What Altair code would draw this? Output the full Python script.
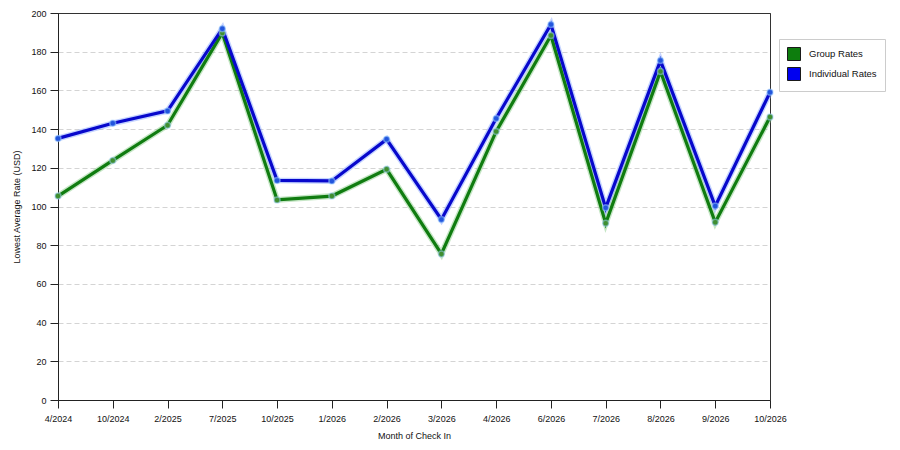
import altair as alt
import pandas as pd

months = ["4/2024", "10/2024", "2/2025", "7/2025", "10/2025", "1/2026", "2/2026",
          "3/2026", "4/2026", "6/2026", "7/2026", "8/2026", "9/2026", "10/2026"]
group_rates = [105.4, 123.8, 142.0, 189.7, 103.4, 105.4, 119.2,
               75.5, 138.8, 188.4, 91.3, 169.8, 91.8, 146.2]
individual_rates = [135.2, 143.0, 149.4, 191.9, 113.5, 113.2, 134.7,
                    93.3, 145.5, 194.1, 99.3, 175.4, 100.2, 159.0]
series = ["Group Rates", "Individual Rates"]
line_colors = ["#107c10", "#0808cc"]
halo_colors = ["#7fc77f", "#7f9fff"]
point_colors = ["#3f8f2f", "#2255dd"]
legend_colors = ["#0d7d0d", "#0000f0"]

rows = []
for m, g, i in zip(months, group_rates, individual_rates):
    rows.append({"month": m, "series": series[0], "rate": g})
    rows.append({"month": m, "series": series[1], "rate": i})
df = pd.DataFrame(rows)

font = "Liberation Sans"
axis_style = dict(labelFont=font, titleFont=font, labelFontSize=9, titleFontSize=9,
                  labelColor="#111111", titleColor="#111111", titleFontWeight="normal",
                  domainColor="#222222", tickColor="#222222", tickSize=8)

x = alt.X("month:O", sort=months, title="Month of Check In",
          scale=alt.Scale(type="point", padding=0),
          axis=alt.Axis(labelAngle=0, grid=False, labelPadding=6,
                        titlePadding=8, **axis_style))
y = alt.Y("rate:Q", title="Lowest Average Rate (USD)",
          scale=alt.Scale(domain=[0, 200], nice=False),
          axis=alt.Axis(values=list(range(0, 201, 20)), labelPadding=4,
                        titlePadding=9, grid=True,
                        gridDash=alt.condition("datum.value >= 200", alt.value([1, 0]), alt.value([5, 3])),
                        gridColor=alt.condition("datum.value >= 200", alt.value("#333333"), alt.value("#d4d4d4")),
                        **axis_style))

color_scale = alt.Scale(domain=series, range=line_colors)
halo_scale = alt.Scale(domain=series, range=halo_colors)

base = alt.Chart(df)

halo = base.mark_line(strokeWidth=6, opacity=0.45).encode(
    x=x, y=y,
    color=alt.Color("series:N", scale=halo_scale, legend=None),
    detail="series:N",
)
lines = base.mark_line(strokeWidth=3.2).encode(
    x=x, y=y,
    stroke=alt.Stroke("series:N", scale=color_scale, legend=None),
)
points = base.mark_point(filled=True, size=36, opacity=1, strokeWidth=1.5).encode(
    x=x, y=y,
    fill=alt.Fill("series:N", scale=alt.Scale(domain=series, range=point_colors),
                  legend=None),
    stroke=alt.value("#9fd0ff"),
    strokeOpacity=alt.value(0.5),
)

legend_layer = base.mark_square(size=0, opacity=1).encode(
    x=x, y=y,
    fill=alt.Fill("series:N", scale=alt.Scale(domain=series, range=legend_colors),
                  legend=alt.Legend(title=None, orient="none", legendX=721, legendY=26,
                                    symbolType="square", symbolSize=169,
                                    symbolStrokeColor="#1a1a1a", symbolStrokeWidth=1,
                                    symbolOpacity=1,
                                    labelFontSize=9.5, labelFont=font, labelColor="#111",
                                    labelOffset=8, rowPadding=2, padding=8,
                                    strokeColor="#cccccc", fillColor="white")),
)

chart = alt.layer(halo, lines, points, legend_layer).resolve_scale(fill="independent").properties(
    width=712, height=387,
    background="white",
    autosize=alt.AutoSizeParams(type="none"),
    padding={"left": 50, "top": 5, "right": 120, "bottom": 42},
).configure_view(
    stroke="#333333", strokeWidth=1
)

chart.save("out.html", embed_options={"renderer": "svg", "actions": False})
